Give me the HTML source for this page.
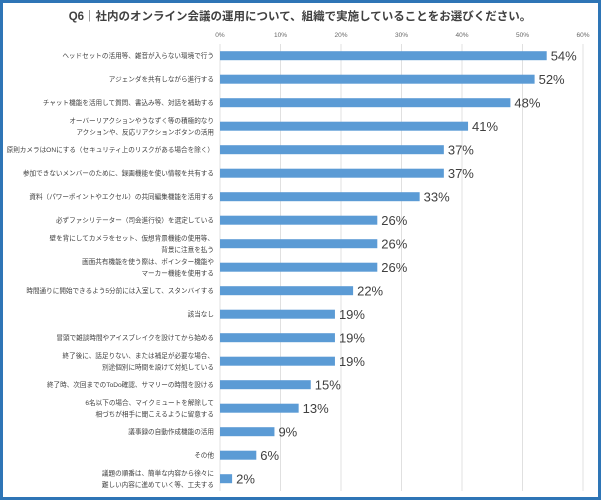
<!DOCTYPE html><html><head><meta charset="utf-8"><style>
body{margin:0;width:601px;height:500px;background:#fff;font-family:"Liberation Sans","Noto Sans CJK JP",sans-serif;overflow:hidden}
.frame{position:absolute;left:0px;top:0px;width:595px;height:494px;border:3px solid #2e75b6}
</style></head><body><div class="frame"></div>
<svg width="601" height="500" style="position:absolute;left:0;top:0" font-family="Liberation Sans, Noto Sans CJK JP, sans-serif">
<text x="300" y="20" text-anchor="middle" font-size="11.5" font-weight="bold" fill="#404040">Q6｜社内のオンライン会議の運用について、組織で実施していることをお選びください。</text>
<g id="g"></g>
</svg>
<script>
const d=[["ヘッドセットの活用等、雑音が入らない環境で行う",54],["アジェンダを共有しながら進行する",52],["チャット機能を活用して質問、書込み等、対話を補助する",48],["オーバーリアクションやうなずく等の積極的なり|アクションや、反応リアクションボタンの活用",41],["原則カメラはONにする（セキュリティ上のリスクがある場合を除く）",37],["参加できないメンバーのために、録画機能を使い情報を共有する",37],["資料（パワーポイントやエクセル）の共同編集機能を活用する",33],["必ずファシリテーター（司会進行役）を選定している",26],["壁を背にしてカメラをセット、仮想背景機能の使用等、|背景に注意を払う",26],["画面共有機能を使う際は、ポインター機能や|マーカー機能を使用する",26],["時間通りに開始できるよう5分前には入室して、スタンバイする",22],["該当なし",19],["冒頭で雑談時間やアイスブレイクを設けてから始める",19],["終了後に、話足りない、または補足が必要な場合、|別途個別に時間を設けて対処している",19],["終了時、次回までのToDo確認、サマリーの時間を設ける",15],["6名以下の場合、マイクミュートを解除して|相づちが相手に聞こえるように留意する",13],["議事録の自動作成機能の活用",9],["その他",6],["議題の順番は、簡単な内容から徐々に|難しい内容に進めていく等、工夫する",2]];
let s="";const x0=220,k=6.05;
for(let i=0;i<=6;i++){const x=x0+i*10*k;s+=`<line x1="${x}" y1="44" x2="${x}" y2="491" stroke="#e0e0e0" stroke-width="1"/><text x="${x}" y="37" font-size="6.5" fill="#666" text-anchor="middle">${i*10}%</text>`}
d.forEach((r,i)=>{const y=55.7+i*23.5;const w=r[1]*k;
s+=`<rect x="${x0}" y="${y-4.5}" width="${w}" height="9" fill="#5b9bd5"/>`;
s+=`<text x="${x0+w+4}" y="${y+5}" font-size="13" fill="#404040">${r[1]}%</text>`;
const l=r[0].split("|");
if(l.length==1)s+=`<text x="214" y="${y+2.5}" font-size="6.6" fill="#404040" text-anchor="end">${l[0]}</text>`;
else{s+=`<text x="214" y="${y-3}" font-size="6.6" fill="#404040" text-anchor="end">${l[0]}</text><text x="214" y="${y+8.5}" font-size="6.6" fill="#404040" text-anchor="end">${l[1]}</text>`}
});
document.getElementById("g").innerHTML=s;
</script></body></html>
